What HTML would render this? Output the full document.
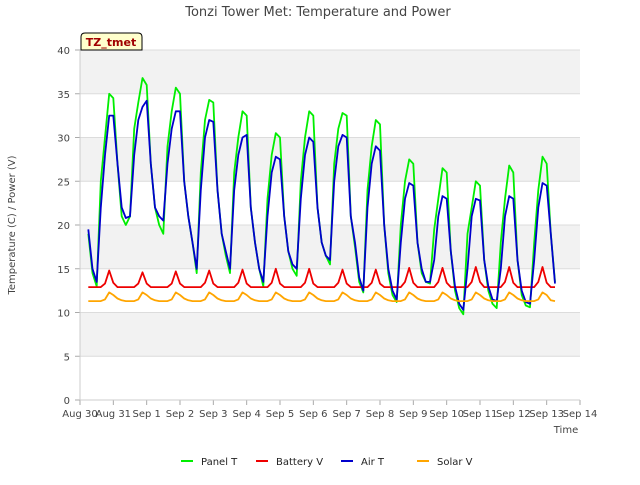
<!DOCTYPE html>
<html><head><meta charset="utf-8"><style>
body{margin:0;background:#fff;font-family:"Liberation Sans",sans-serif;}
svg text{font-family:"DejaVu Sans","Liberation Sans",sans-serif;}
</style></head><body>
<svg id="chart" width="640" height="480" xmlns="http://www.w3.org/2000/svg">
<rect x="0" y="0" width="640" height="480" fill="#fff"/>
<text x="318" y="16" text-anchor="middle" font-size="13" fill="#444">Tonzi Tower Met: Temperature and Power</text>
<g id="bands"></g><g id="grid"></g>
<g id="axes"></g>
<g id="series"></g>
<text x="15" y="225" transform="rotate(-90 15 225)" text-anchor="middle" font-size="10" fill="#444">Temperature (C) / Power (V)</text>
<text x="566" y="433" text-anchor="middle" font-size="10" fill="#444">Time</text>
<g>
<path d="M81,50 L81,37 Q81,33 85,33 L138,33 Q142,33 142,37 L142,50 Z" fill="#ffffcc" stroke="#000" stroke-width="1"/>
<text x="111" y="46" text-anchor="middle" font-size="11" font-weight="bold" fill="#a00000">TZ_tmet</text>
</g>
<g id="legend"></g>
</svg>
<script>
const yTicks=[0,5,10,15,20,25,30,35,40];
const xTickLabels=["Aug 30","Aug 31","Sep 1","Sep 2","Sep 3","Sep 4","Sep 5","Sep 6","Sep 7","Sep 8","Sep 9","Sep 10","Sep 11","Sep 12","Sep 13","Sep 14"];
const tStart=0.25, tStep=0.125;
const airT=[19.5,15,13.5,22,28,32.5,32.5,
27,22,20.8,21,28,32,33.5,34.2,
27,22,21,20.5,27,31,33,33,
25,21,18,15,24,30,32,31.8,
24,19,17,15,24,28,30,30.3,
22,18,15,13.5,21,26,27.8,27.5,
21,17,15.5,15,23,28,30,29.5,
22,18,16.5,16,25,29,30.3,30,
21,18,14,12.5,22,27,29,28.5,
20,15,12.5,11.5,18,23,24.8,24.5,
18,15,13.5,13.5,16,21,23.3,23,
17,13,11,10.3,15,21,23,22.8,
16,13,11.5,11.3,15,21,23.3,23,
16,12.5,11.2,11,16,22,24.8,24.5,
19,13.3];
const panelT=[19,14.5,13,25,30,35,34.5,
27,21,20,21,31,34,36.8,36,
27,22,20,19,29,33,35.7,35,
25,21,18,14.5,26,32,34.3,34,
24,19,16.5,14.5,26,30,33,32.5,
22,18,15,13,23,28,30.5,30,
21,17,15,14.2,25,30,33,32.5,
22,18,16.5,15.5,27,31,32.8,32.5,
21,17.5,13.5,12.3,24,29,32,31.5,
20,14.5,12,11.2,20,25,27.5,27,
18,14.5,13.5,13.3,19.5,23,26.5,26,
17,12.5,10.5,9.8,19,22,25,24.5,
16,12.5,11,10.5,18,23,26.8,26,
16,12,10.8,10.6,18,24,27.8,27,
19,13.5];
const batteryV=[12.9,12.9,12.9,12.9,13.3,14.8,13.4,
12.9,12.9,12.9,12.9,12.9,13.3,14.6,13.3,
12.9,12.9,12.9,12.9,12.9,13.3,14.7,13.3,
12.9,12.9,12.9,12.9,12.9,13.4,14.8,13.3,
12.9,12.9,12.9,12.9,12.9,13.4,14.9,13.3,
12.9,12.9,12.9,12.9,12.9,13.4,15.0,13.3,
12.9,12.9,12.9,12.9,12.9,13.4,15.0,13.3,
12.9,12.9,12.9,12.9,12.9,13.4,14.9,13.3,
12.9,12.9,12.9,12.9,12.9,13.4,14.9,13.3,
12.9,12.9,12.9,12.9,12.9,13.5,15.1,13.4,
12.9,12.9,12.9,12.9,12.9,13.5,15.1,13.4,
12.9,12.9,12.9,12.9,12.9,13.5,15.2,13.5,
12.9,12.9,12.9,12.9,12.9,13.5,15.2,13.4,
12.9,12.9,12.9,12.9,12.9,13.5,15.2,13.4,
12.9,12.9];
const solarV=[11.3,11.3,11.3,11.3,11.5,12.3,12.0,
11.6,11.4,11.3,11.3,11.3,11.5,12.3,12.0,
11.6,11.4,11.3,11.3,11.3,11.5,12.3,12.0,
11.6,11.4,11.3,11.3,11.3,11.5,12.3,12.0,
11.6,11.4,11.3,11.3,11.3,11.5,12.3,12.0,
11.6,11.4,11.3,11.3,11.3,11.5,12.3,12.0,
11.6,11.4,11.3,11.3,11.3,11.5,12.3,12.0,
11.6,11.4,11.3,11.3,11.3,11.5,12.3,12.0,
11.6,11.4,11.3,11.3,11.3,11.5,12.3,12.0,
11.6,11.4,11.3,11.3,11.3,11.5,12.3,12.0,
11.6,11.4,11.3,11.3,11.3,11.5,12.3,12.0,
11.6,11.4,11.3,11.3,11.3,11.5,12.3,12.0,
11.6,11.4,11.3,11.3,11.3,11.5,12.3,12.0,
11.6,11.4,11.3,11.3,11.3,11.5,12.3,12.0,
11.4,11.3];
const NS="http://www.w3.org/2000/svg";
const L=80,R=580,T=50,B=400;
function xs(d){return L+(d/15)*(R-L);}
function ys(v){return B-(v/40)*(B-T);}
function mk(tag,attrs,parent){const e=document.createElementNS(NS,tag);for(const k in attrs)e.setAttribute(k,attrs[k]);parent.appendChild(e);return e;}
const bands=document.getElementById('bands'),grid=document.getElementById('grid'),axes=document.getElementById('axes'),series=document.getElementById('series'),legend=document.getElementById('legend');
for(let i=0;i<yTicks.length-1;i++){
  const r=mk('rect',{x:L,y:ys(yTicks[i+1]),width:R-L,height:ys(yTicks[i])-ys(yTicks[i+1]),fill:(i%2===1)?'#f2f2f2':'#ffffff'},bands);
  
  
}
yTicks.forEach(v=>{
  const g=mk('line',{x1:L,x2:R,y1:ys(v),y2:ys(v),stroke:'#dcdcdc','stroke-width':1},grid);
  
  
  const t=mk('text',{x:L-10,y:ys(v)+4,'text-anchor':'end','font-size':10,fill:'#444'},axes);
  t.textContent=v;
  
  
  mk('line',{x1:L-5,x2:L,y1:ys(v),y2:ys(v),stroke:'#aaa'},axes);
});
xTickLabels.forEach((s,i)=>{
  mk('line',{x1:xs(i),x2:xs(i),y1:B,y2:B+5,stroke:'#aaa'},axes);
  const t=mk('text',{x:xs(i),y:B+17,'text-anchor':'middle','font-size':10,fill:'#444'},axes);
  t.textContent=s;
  
  
});
mk('line',{x1:L,x2:L,y1:T,y2:B,stroke:'#ccc'},axes);
mk('line',{x1:L,x2:R,y1:B,y2:B,stroke:'#ccc'},axes);
const defs=[['Panel T',panelT,'#00ee00'],['Battery V',batteryV,'#ee0000'],['Air T',airT,'#0000cc'],['Solar V',solarV,'#ffa500']];
defs.forEach(([name,arr,col])=>{
  const pts=arr.map((v,i)=>xs(tStart+i*tStep).toFixed(1)+','+ys(v).toFixed(1)).join(' ');
  const p=mk('polyline',{points:pts,fill:'none',stroke:col,'stroke-width':1.8,'stroke-linejoin':'round'},series);
  
  
});
const lx=[181,256,341,417];
defs.forEach(([name,arr,col],i)=>{
  const g=mk('g',{},legend);
  
  
  mk('line',{x1:lx[i],x2:lx[i]+12,y1:461,y2:461,stroke:col,'stroke-width':2},g);
  const t=mk('text',{x:lx[i]+20,y:465,'font-size':10,fill:'#222'},g);
  t.textContent=name;
});
</script>
</body></html>
